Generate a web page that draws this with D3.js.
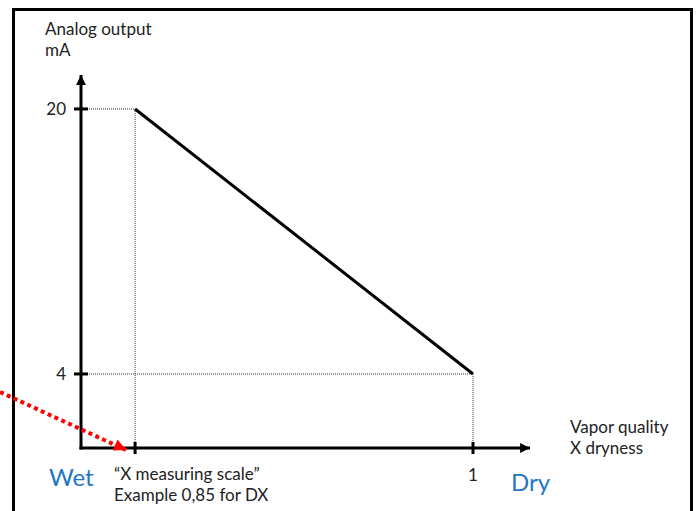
<!DOCTYPE html>
<html>
<head>
<meta charset="utf-8">
<script src="https://cdn.jsdelivr.net/npm/d3@7"></script>
<style>
  body { margin: 0; background: #fff; }
  text { font-family: Lato, "Open Sans", sans-serif; fill: #222; }
</style>
</head>
<body>
<div id="chart"></div>
<script>
// values
var xTicks = [0.85, 1];
var xTickLabels = ['', '1'];
var yTicks = [4, 20];
var yTickLabels = ['4', '20'];
// output line: 20 mA at the measuring scale point, 4 mA at dry
var curveX = [0.85, 1];
var curveY = [20, 4];

var svgWidth = 697;
var svgHeight = 511;

var svg = d3.select('#chart')
    .append('svg')
    .attr('width', svgWidth)
    .attr('height', svgHeight);

// frame around the whole thing
svg.append('rect')
    .attr('x', 13.5)
    .attr('y', 9.5)
    .attr('width', 678)
    .attr('height', 520)
    .attr('fill', 'none')
    .attr('stroke', '#000')
    .attr('stroke-width', 3);

// scales (axis starts a little left of 0.85, ends after 1)
var xScale = d3.scaleLinear()
    .domain([0.826, 1.0253])
    .range([81, 530]);

var yScale = d3.scaleLinear()
    .domain([-0.47, 22.05])
    .range([448, 75]);

var defs = svg.append('defs');
defs.append('marker')
    .attr('id', 'axisArrow')
    .attr('viewBox', '0 0 10 10')
    .attr('refX', 10)
    .attr('refY', 5)
    .attr('markerWidth', 4)
    .attr('markerHeight', 3.3)
    .attr('markerUnits', 'strokeWidth')
    .attr('orient', 'auto')
    .append('path')
    .attr('d', 'M0,0 L10,5 L0,10 z')
    .attr('fill', '#000');

defs.append('marker')
    .attr('id', 'redArrow')
    .attr('viewBox', '0 0 10 10')
    .attr('refX', 10)
    .attr('refY', 5)
    .attr('markerWidth', 13)
    .attr('markerHeight', 12)
    .attr('markerUnits', 'userSpaceOnUse')
    .attr('orient', 'auto')
    .append('path')
    .attr('d', 'M0,0 L10,5 L0,10 z')
    .attr('fill', '#ff0000');

var x0 = xScale.range()[0];
var y0 = yScale.range()[0];

// dotted guide lines
var guides = svg.append('g')
    .attr('stroke', '#333')
    .attr('stroke-width', 1)
    .attr('stroke-dasharray', '1,1');

curveX.forEach(function (d, i) {
    guides.append('line')
        .attr('x1', x0).attr('x2', xScale(d))
        .attr('y1', yScale(curveY[i])).attr('y2', yScale(curveY[i]));
    guides.append('line')
        .attr('x1', xScale(d)).attr('x2', xScale(d))
        .attr('y1', yScale(curveY[i])).attr('y2', y0);
});

// axes
svg.append('line')
    .attr('x1', x0).attr('y1', y0 + 1.5)
    .attr('x2', x0).attr('y2', yScale.range()[1])
    .attr('stroke', '#000')
    .attr('stroke-width', 3)
    .attr('marker-end', 'url(#axisArrow)');

svg.append('line')
    .attr('x1', x0 - 1.5).attr('y1', y0)
    .attr('x2', xScale.range()[1]).attr('y2', y0)
    .attr('stroke', '#000')
    .attr('stroke-width', 3)
    .attr('marker-end', 'url(#axisArrow)');

// ticks
svg.selectAll('.xtick')
    .data(xTicks)
    .enter()
    .append('line')
    .attr('x1', d => xScale(d)).attr('x2', d => xScale(d))
    .attr('y1', y0 - 6).attr('y2', y0 + 6)
    .attr('stroke', '#000')
    .attr('stroke-width', 3);

svg.selectAll('.ytick')
    .data(yTicks)
    .enter()
    .append('line')
    .attr('x1', x0 - 7).attr('x2', x0 + 7)
    .attr('y1', d => yScale(d)).attr('y2', d => yScale(d))
    .attr('stroke', '#000')
    .attr('stroke-width', 3);

// tick labels
svg.selectAll('.ylab')
    .data(yTicks)
    .enter()
    .append('text')
    .attr('x', 66)
    .attr('y', d => yScale(d) + 6)
    .attr('text-anchor', 'end')
    .attr('font-size', 17)
    .text((d, i) => yTickLabels[i]);

svg.selectAll('.xlab')
    .data(xTicks)
    .enter()
    .append('text')
    .attr('x', d => xScale(d))
    .attr('y', 481)
    .attr('text-anchor', 'middle')
    .attr('font-size', 17)
    .text((d, i) => xTickLabels[i]);

// the output line
var line = d3.line()
    .x(d => xScale(d[0]))
    .y(d => yScale(d[1]));

svg.append('path')
    .datum(curveX.map((d, i) => [d, curveY[i]]))
    .attr('d', line)
    .attr('fill', 'none')
    .attr('stroke', '#000')
    .attr('stroke-width', 3);

// red dotted pointer
svg.append('line')
    .attr('x1', 0).attr('y1', 392)
    .attr('x2', 126).attr('y2', 450)
    .attr('stroke', '#ff0000')
    .attr('stroke-width', 4)
    .attr('stroke-dasharray', '4,3.5')
    .attr('marker-end', 'url(#redArrow)');

// two-line labels
function twoLines(x, y, gap, a, b) {
    var g = svg.append('g').attr('font-size', 17);
    g.append('text').attr('x', x).attr('y', y).text(a);
    g.append('text').attr('x', x).attr('y', y + gap).text(b);
    return g;
}

twoLines(45, 35, 20.5, 'Analog output', 'mA');
twoLines(570, 433, 20.5, 'Vapor quality', 'X dryness');
twoLines(114, 480, 20.5, '\u201cX measuring scale\u201d', 'Example 0,85 for DX');

svg.append('text').attr('x', 49).attr('y', 486)
    .attr('font-size', 24).style('fill', '#1f77c4').text('Wet');
svg.append('text').attr('x', 511).attr('y', 491)
    .attr('font-size', 24).style('fill', '#1f77c4').text('Dry');
</script>
</body>
</html>
